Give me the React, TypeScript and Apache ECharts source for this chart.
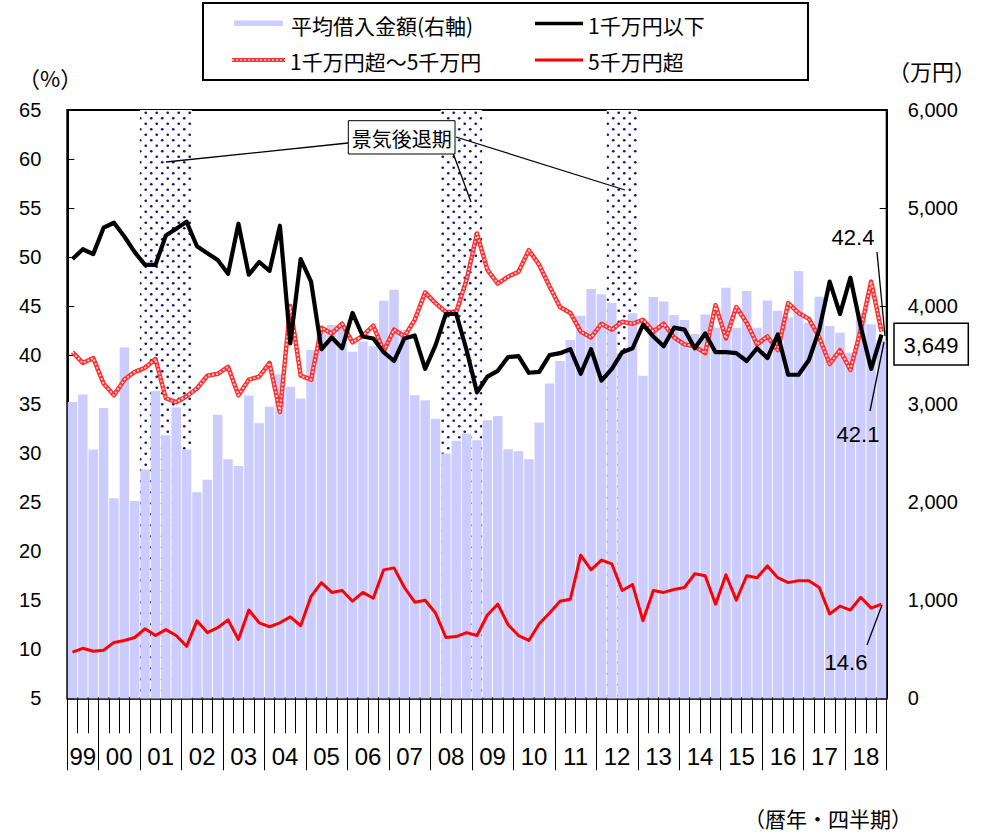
import React, { useEffect, useRef } from 'react';
import * as echarts from 'echarts';

const yearLabels = ['99', '00', '01', '02', '03', '04', '05', '06', '07', '08', '09', '10', '11', '12', '13', '14', '15', '16', '17', '18'];
const firstQuarter = 2; // data start: 1999 Q2
const categories: string[] = [];
yearLabels.forEach((y, i) => {
  for (let q = i === 0 ? firstQuarter : 1; q <= 4; q++) categories.push(`${y}Q${q}`);
});

// 平均借入金額（右軸, 万円）
const avgLoan = [
  3023, 3099, 2538, 2962, 2041, 3578, 2013, 2334, 3133, 2684,
  2965, 2538, 2102, 2228, 2892, 2439, 2370, 3088, 2806, 2973,
  3306, 3177, 3058, 3551, 3780, 3806, 3780, 3534, 3640, 3590,
  4054, 4168, 3755, 3090, 3041, 2852, 2497, 2626, 2697, 2633,
  2837, 2880, 2541, 2520, 2439, 2813, 3211, 3440, 3653, 3901,
  4175, 4122, 4035, 3520, 3928, 3290, 4094, 4046, 3908, 3857,
  3716, 3915, 3779, 4188, 3779, 4155, 3779, 4056, 3952, 3884,
  4358, 3830, 4095, 3796, 3728, 3525, 3925, 3816, 3649,
];
// 1千万円以下 (%)
const under10m = [
  49.8, 50.8, 50.3, 53.0, 53.5, 52.1, 50.5, 49.2, 49.2, 52.2,
  52.9, 53.6, 51.1, 50.4, 49.7, 48.3, 53.4, 48.2, 49.5, 48.6,
  53.2, 41.2, 49.8, 47.5, 40.6, 41.8, 40.7, 44.3, 41.9, 41.7,
  40.3, 39.4, 41.7, 42.0, 38.6, 41.0, 44.2, 44.2, 40.5, 36.2,
  37.8, 38.4, 39.8, 39.9, 38.2, 38.3, 40.0, 40.2, 40.6, 38.1,
  40.6, 37.4, 38.6, 40.3, 40.7, 43.1, 41.9, 40.9, 42.8, 42.6,
  40.7, 42.2, 40.3, 40.3, 40.2, 39.4, 40.7, 39.7, 42.1, 38.0,
  38.0, 39.5, 42.6, 47.5, 44.2, 47.9, 42.9, 38.6, 42.1,
];
// 1千万円超～5千万円 (%)
const mid10to50m = [
  40.3, 39.2, 39.7, 37.1, 35.9, 37.5, 38.3, 38.7, 39.6, 35.6,
  35.2, 35.8, 36.6, 37.9, 38.1, 38.8, 35.9, 37.5, 37.8, 39.2,
  34.2, 45.0, 37.9, 37.5, 42.8, 42.2, 43.2, 41.3, 42.0, 43.0,
  40.4, 42.6, 41.9, 43.6, 46.4, 45.3, 44.4, 44.4, 47.7, 52.4,
  48.7, 47.3, 48.0, 48.5, 50.7, 49.2, 47.0, 44.9, 44.3, 42.4,
  41.8, 43.2, 42.6, 43.4, 43.2, 43.6, 42.4, 43.2, 41.8, 41.1,
  40.9, 40.2, 45.1, 41.7, 44.9, 43.3, 41.1, 41.9, 40.5, 45.3,
  44.3, 43.7, 41.8, 39.1, 40.5, 38.5, 42.6, 47.5, 42.4,
];
// 5千万円超 (%)
const over50m = [
  9.7, 10.1, 9.8, 9.9, 10.7, 10.9, 11.2, 12.1, 11.4, 12.0,
  11.4, 10.3, 12.9, 11.7, 12.2, 13.0, 11.0, 14.0, 12.7, 12.3,
  12.7, 13.3, 12.4, 15.4, 16.8, 15.8, 16.0, 14.9, 15.8, 15.2,
  18.1, 18.3, 16.3, 14.8, 15.0, 13.7, 11.2, 11.3, 11.7, 11.4,
  13.5, 14.6, 12.5, 11.4, 10.9, 12.6, 13.7, 14.9, 15.1, 19.6,
  18.1, 19.1, 18.7, 16.0, 16.6, 12.9, 16.0, 15.8, 16.1, 16.3,
  17.7, 17.5, 14.6, 17.6, 15.0, 17.5, 17.3, 18.5, 17.3, 16.8,
  17.0, 17.0, 16.3, 13.6, 14.4, 14.0, 15.3, 14.2, 14.6,
];
// 景気後退期 (category index ranges)
const recessions = [
  [7, 11],
  [36, 39],
  [52, 54],
];

const JP = '"Noto Sans CJK JP", "Noto Sans", sans-serif';
const NUM = '"Liberation Sans", Arial, sans-serif';

function yearLabelPos(i: number) {
  return i === 0 ? 1.5 : 4 * i + 1;
}

export default function App() {
  const ref = useRef<HTMLDivElement>(null);
  useEffect(() => {
    if (!ref.current) return;
    const chart = echarts.init(ref.current, undefined, { renderer: 'svg' });

    const T = 11;
    const tile = document.createElement('canvas');
    tile.width = T;
    tile.height = T;
    const ctx = tile.getContext('2d');
    if (ctx) {
      ctx.fillStyle = '#ffffff';
      ctx.fillRect(0, 0, T, T);
      ctx.fillStyle = '#14147a';
      const dots = [
        [2.75, 2.75],
        [8.25, 8.25],
      ];
      dots.forEach(([x, y]) => {
        ctx.beginPath();
        ctx.arc(x, y, 1.35, 0, Math.PI * 2);
        ctx.fill();
      });
    }
    const pattern: any = { image: tile.toDataURL(), repeat: 'repeat', imageWidth: T, imageHeight: T };

    const last = avgLoan.length - 1;
    const fmt = (v: number) => String(v).replace(/\B(?=(\d{3})+(?!\d))/g, ',');

    const text = (t: string, x: number, y: number, size: number, family: string, align = 'left') => ({
      type: 'text',
      x,
      y,
      z: 100,
      style: {
        text: t,
        fill: '#000',
        fontSize: size,
        fontFamily: family,
        textAlign: align,
        textVerticalAlign: 'middle',
      },
    });
    const line = (x1: number, y1: number, x2: number, y2: number, stroke = '#000', w = 1.3, dash?: number[]) => ({
      type: 'line',
      z: 100,
      shape: { x1, y1, x2, y2 },
      style: { stroke, lineWidth: w, lineDash: dash },
    });

    const option: any = {
      animation: false,
      backgroundColor: '#ffffff',
      grid: {
        left: 67.3,
        right: 101.3,
        top: 110,
        bottom: 136.7,
        show: true,
        borderColor: '#000',
        borderWidth: 2,
        backgroundColor: 'transparent',
      },
      xAxis: [
        {
          type: 'category',
          data: categories,
          boundaryGap: true,
          position: 'bottom',
          axisLine: { show: true, onZero: false, lineStyle: { color: '#333', width: 2 } },
          axisTick: { show: true, interval: 0, length: 35, lineStyle: { color: '#000', width: 1 } },
          axisLabel: { show: false },
          splitLine: { show: false },
        },
        {
          type: 'category',
          data: categories,
          boundaryGap: true,
          position: 'bottom',
          axisLine: { show: false, onZero: false },
          axisTick: {
            show: true,
            interval: (i: number) => i === 0 || (i - 3) % 4 === 0,
            length: 72,
            lineStyle: { color: '#000', width: 1 },
          },
          axisLabel: { show: false },
          splitLine: { show: false },
        },
        {
          type: 'value',
          min: 0,
          max: categories.length,
          interval: 0.5,
          position: 'bottom',
          axisLine: { show: false, onZero: false },
          axisTick: { show: false },
          splitLine: { show: false },
          axisLabel: {
            margin: 46,
            fontSize: 24,
            fontFamily: NUM,
            color: '#000',
            formatter: (v: number) => {
              const i = yearLabels.findIndex((_, k) => Math.abs(yearLabelPos(k) - v) < 1e-6);
              return i >= 0 ? yearLabels[i] : '';
            },
          },
        },
      ],
      yAxis: [
        {
          type: 'value',
          min: 5,
          max: 65,
          interval: 5,
          position: 'left',
          axisLine: { show: true, lineStyle: { color: '#000', width: 2 } },
          axisTick: { show: true, inside: true, length: 7, lineStyle: { color: '#000', width: 1 } },
          axisLabel: { margin: 26, fontSize: 20, fontFamily: NUM, color: '#000' },
          splitLine: { show: false },
        },
        {
          type: 'value',
          min: 0,
          max: 6000,
          interval: 1000,
          position: 'right',
          axisLine: { show: true, lineStyle: { color: '#000', width: 2 } },
          axisTick: { show: true, inside: true, length: 7, lineStyle: { color: '#000', width: 1 } },
          axisLabel: { margin: 21, fontSize: 20, fontFamily: NUM, color: '#000', formatter: (v: number) => fmt(v) },
          splitLine: { show: false },
        },
      ],
      series: [
        {
          name: '景気後退期',
          type: 'custom',
          xAxisIndex: 0,
          yAxisIndex: 0,
          z: 1,
          encode: { x: 0, y: 1 },
          data: recessions,
          renderItem: (params: any, api: any) => {
            const s = api.coord([api.value(0), 65]);
            const e = api.coord([api.value(1), 65]);
            const bw = api.size([1, 0])[0];
            const cs = params.coordSys;
            return {
              type: 'rect',
              shape: { x: s[0] - bw / 2, y: cs.y, width: e[0] - s[0] + bw, height: cs.height },
              style: { fill: pattern },
            };
          },
        },
        {
          name: '平均借入金額(右軸)',
          type: 'bar',
          xAxisIndex: 0,
          yAxisIndex: 1,
          z: 2,
          data: avgLoan,
          barCategoryGap: '9%',
          itemStyle: { color: '#ccccff' },
        },
        {
          name: '1千万円超～5千万円',
          type: 'line',
          xAxisIndex: 0,
          yAxisIndex: 0,
          z: 3,
          data: mid10to50m,
          symbol: 'none',
          lineStyle: { color: '#ff3030', width: 4.5, join: 'round' },
        },
        {
          name: '1千万円超～5千万円 dots',
          type: 'line',
          xAxisIndex: 0,
          yAxisIndex: 0,
          z: 4,
          data: mid10to50m,
          symbol: 'none',
          silent: true,
          lineStyle: { color: '#ffd6d6', width: 1.8, type: [2, 2], join: 'round' },
        },
        {
          name: '1千万円以下',
          type: 'line',
          xAxisIndex: 0,
          yAxisIndex: 0,
          z: 5,
          data: under10m,
          symbol: 'none',
          lineStyle: { color: '#000000', width: 4.2, join: 'round' },
        },
        {
          name: '5千万円超',
          type: 'line',
          xAxisIndex: 0,
          yAxisIndex: 0,
          z: 5,
          data: over50m,
          symbol: 'none',
          lineStyle: { color: '#ff0000', width: 3, join: 'round' },
        },
      ],
      graphic: [
        // legend box
        {
          type: 'rect',
          z: 99,
          shape: { x: 203, y: 3, width: 605, height: 77 },
          style: { fill: '#fff', stroke: '#000', lineWidth: 2 },
        },
        { type: 'rect', z: 100, shape: { x: 234, y: 20.5, width: 49, height: 5.5 }, style: { fill: '#ccccff' } },
        text('平均借入金額(右軸)', 291, 25, 21, JP),
        line(535, 23.5, 583, 23.5, '#000', 3.5),
        text('1千万円以下', 588, 25, 21, JP),
        line(232, 60, 285, 60, '#ff3030', 4),
        line(232, 60, 285, 60, '#ffd6d6', 1.6, [2, 2]),
        text('1千万円超～5千万円', 290, 61, 21, JP),
        line(535, 60, 583, 60, '#ff0000', 3),
        text('5千万円超', 588, 61, 21, JP),
        // axis titles
        text('（%）', 50, 77, 22, JP, 'center'),
        text('（万円）', 932, 70, 22, JP, 'center'),
        text('（暦年・四半期）', 828, 818, 21, JP, 'center'),
        // recession annotation
        line(166, 162, 348, 143),
        line(453, 153, 471, 202),
        line(456, 137, 625, 190),
        {
          type: 'rect',
          z: 100,
          shape: { x: 348.3, y: 120.7, width: 106.7, height: 33.3 },
          style: { fill: '#fff', stroke: '#000', lineWidth: 1 },
        },
        text('景気後退期', 401.7, 138, 20, JP, 'center'),
        // end-value labels
        text(mid10to50m[last].toFixed(1), 853, 237, 22, NUM, 'center'),
        line(877, 252, 885, 336),
        text(under10m[last].toFixed(1), 858, 434, 22, NUM, 'center'),
        line(870, 411, 884, 342),
        text(over50m[last].toFixed(1), 846, 662, 22, NUM, 'center'),
        line(867, 645, 882, 605),
        {
          type: 'rect',
          z: 100,
          shape: { x: 894, y: 323.3, width: 74.3, height: 41.7 },
          style: { fill: '#fff', stroke: '#000', lineWidth: 1.5 },
        },
        text(fmt(avgLoan[last]), 931, 345, 22, NUM, 'center'),
      ],
    };
    chart.setOption(option);
    return () => chart.dispose();
  }, []);

  return <div ref={ref} style={{ position: 'absolute', left: 0, top: 0, width: 988, height: 835 }} />;
}
